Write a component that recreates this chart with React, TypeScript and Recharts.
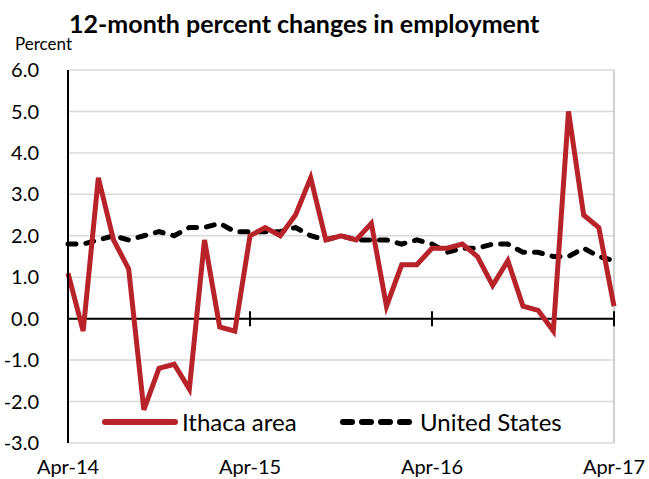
import {
  LineChart,
  Line,
  XAxis,
  YAxis,
  CartesianGrid,
  ReferenceLine,
} from "recharts";

const months: string[] = [
  "Apr-14", "May-14", "Jun-14", "Jul-14", "Aug-14", "Sep-14", "Oct-14", "Nov-14", "Dec-14", "Jan-15", "Feb-15", "Mar-15",
  "Apr-15", "May-15", "Jun-15", "Jul-15", "Aug-15", "Sep-15", "Oct-15", "Nov-15", "Dec-15", "Jan-16", "Feb-16", "Mar-16",
  "Apr-16", "May-16", "Jun-16", "Jul-16", "Aug-16", "Sep-16", "Oct-16", "Nov-16", "Dec-16", "Jan-17", "Feb-17", "Mar-17",
  "Apr-17",
];

const ithaca: number[] = [
  1.1, -0.3, 3.4, 1.9, 1.2, -2.2, -1.2, -1.1, -1.7, 1.9, -0.2, -0.3,
  2.0, 2.2, 2.0, 2.5, 3.4, 1.9, 2.0, 1.9, 2.3, 0.3, 1.3, 1.3,
  1.7, 1.7, 1.8, 1.5, 0.8, 1.4, 0.3, 0.2, -0.3, 5.0, 2.5, 2.2,
  0.3,
];

const unitedStates: number[] = [
  1.8, 1.8, 1.9, 2.0, 1.9, 2.0, 2.1, 2.0, 2.2, 2.2, 2.3, 2.1,
  2.1, 2.1, 2.1, 2.2, 2.0, 1.9, 2.0, 1.9, 1.9, 1.9, 1.8, 1.9,
  1.8, 1.6, 1.7, 1.7, 1.8, 1.8, 1.6, 1.6, 1.5, 1.5, 1.7, 1.5,
  1.4,
];

const yTicks = [-3, -2, -1, 0, 1, 2, 3, 4, 5, 6];
const xTicks = [0, 12, 24, 36]; // Apr of each year

const data = months.map((m, i) => ({
  i,
  month: m,
  ithaca: ithaca[i],
  us: unitedStates[i],
}));

const RED = "#b8232a";
const FONT = "Lato, 'Open Sans', sans-serif";

const legendText = {
  position: "absolute" as const,
  top: 407,
  fontFamily: FONT,
  fontSize: 24,
  color: "#000",
  whiteSpace: "nowrap" as const,
};

function LegendBox() {
  return (
    <>
      <svg width={76} height={12} style={{ position: "absolute", left: 102, top: 416 }}>
        <line x1={3} y1={6} x2={73} y2={6} stroke={RED} strokeWidth={6} strokeLinecap="round" />
      </svg>
      <div style={{ ...legendText, left: 182 }}>Ithaca area</div>
      <svg width={78} height={12} style={{ position: "absolute", left: 340, top: 416 }}>
        <line x1={3} y1={6} x2={75} y2={6} stroke="#000" strokeWidth={6} strokeDasharray="9 10" strokeLinecap="round" />
      </svg>
      <div style={{ ...legendText, left: 420 }}>United States</div>
    </>
  );
}

export default function App() {
  return (
    <div style={{ position: "absolute", left: 0, top: 0, width: 649, height: 479, background: "#fff" }}>
      <div
        style={{
          position: "absolute",
          left: 69,
          top: 8,
          fontFamily: FONT,
          fontWeight: 700,
          fontSize: 25,
          color: "#000",
          whiteSpace: "nowrap",
        }}
      >
        12-month percent changes in employment
      </div>
      <div
        style={{
          position: "absolute",
          left: 15,
          top: 33,
          fontFamily: FONT,
          fontSize: 17,
          color: "#000",
        }}
      >
        Percent
      </div>
      <LineChart
        width={649}
        height={479}
        data={data}
        margin={{ top: 70, right: 35, bottom: 6, left: 8 }}
        style={{ fontFamily: FONT }}
      >
        <CartesianGrid horizontal vertical={false} stroke="#d9d9d9" strokeWidth={1.5} />
        <XAxis
          dataKey="i"
          type="number"
          domain={[0, 36]}
          ticks={xTicks}
          tickFormatter={(v: number) => months[v]}
          axisLine={false}
          tickLine={false}
          height={30}
          tickMargin={11}
          tick={{ fontSize: 20, fill: "#000" }}
          interval={0}
        />
        <YAxis
          domain={[-3, 6]}
          ticks={yTicks}
          tickFormatter={(v: number) => v.toFixed(1)}
          width={60}
          axisLine={{ stroke: "#000", strokeWidth: 2 }}
          tickLine={false}
          tickMargin={23}
          tick={{ fontSize: 20, fill: "#000" }}
          interval={0}
        />
        <ReferenceLine x={36} stroke="#d0d0d0" strokeWidth={2} />
        <ReferenceLine y={0} stroke="#000" strokeWidth={2} />
        {xTicks.slice(1).map((t) => (
          <ReferenceLine
            key={t}
            segment={[
              { x: t, y: -0.18 },
              { x: t, y: 0.18 },
            ]}
            stroke="#000"
            strokeWidth={2}
          />
        ))}
        <Line
          type="linear"
          dataKey="us"
          stroke="#000"
          strokeWidth={5}
          strokeDasharray="8 10"
          strokeLinecap="round"
          dot={false}
          isAnimationActive={false}
        />
        <Line
          type="linear"
          dataKey="ithaca"
          stroke={RED}
          strokeWidth={5}
          dot={false}
          isAnimationActive={false}
        />
      </LineChart>
      <LegendBox />
    </div>
  );
}
